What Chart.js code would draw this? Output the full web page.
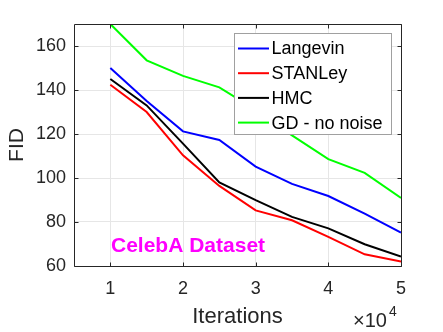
<!DOCTYPE html>
<html>
<head>
<meta charset="utf-8">
<script src="https://cdn.jsdelivr.net/npm/chart.js@4/dist/chart.umd.min.js"></script>
<style>
  html, body { margin: 0; padding: 0; background: #fff; }
</style>
</head>
<body>
<canvas id="fid" width="443" height="332"></canvas>
<script>
// iterations in units of 10^4
const iterations = [1, 1.5, 2, 2.5, 3, 3.5, 4, 4.5, 5]
const langevin = [150, 135, 121.2, 117.3, 105.2, 97.3, 91.8, 83.8, 75.2]
const stanley = [142.4, 130, 110.3, 96.4, 85.3, 80.8, 73.2, 65.3, 62]
const hmc = [145, 133, 115.6, 98, 89.9, 82.3, 77.1, 69.9, 64.3]
const gdNoNoise = [170, 153.5, 146.4, 141.2, 131, 119.4, 108.6, 102.3, 90.9]

const seriesNames = ["Langevin", "STANLey", "HMC", "GD - no noise"]
const seriesValues = [langevin, stanley, hmc, gdNoNoise]
const seriesColors = ["#0000ff", "#ff0000", "#000000", "#00ff00"]

const xTicks = [1, 2, 3, 4, 5]
const yTicks = [60, 80, 100, 120, 140, 160]

const fontFamily = "'Liberation Sans', Arial, Helvetica, sans-serif"
const axisColor = "#262626"

Chart.defaults.font.family = fontFamily

// legend, box, inward ticks and labels drawn MATLAB style
const matlabAxes = {
  id: "matlabAxes",
  afterDatasetsDraw(chart) {
    const { ctx, chartArea: a, scales } = chart
    ctx.save()

    // legend box
    const lx = 234.5, ly = 33.5, lw = 157, lh = 101
    ctx.fillStyle = "#fff"
    ctx.fillRect(lx, ly, lw, lh)
    ctx.strokeStyle = "#a0a0a0"
    ctx.lineWidth = 1
    ctx.strokeRect(lx, ly, lw, lh)

    ctx.font = `18px ${fontFamily}`
    ctx.textBaseline = "middle"
    ctx.textAlign = "left"
    chart.data.datasets.forEach((ds, i) => {
      const rowY = 48.5 + i * 24.7
      ctx.strokeStyle = ds.borderColor
      ctx.lineWidth = 2
      ctx.beginPath()
      ctx.moveTo(238, rowY)
      ctx.lineTo(269, rowY)
      ctx.stroke()
      ctx.fillStyle = "#000"
      ctx.fillText(ds.label, 271.5, rowY + 1)
    })

    // box and inward ticks
    ctx.strokeStyle = axisColor
    ctx.lineWidth = 1
    const L = a.left + 0.5, R = a.right + 0.5, T = a.top + 0.5, B = a.bottom + 0.5
    ctx.beginPath()
    ctx.rect(L, T, R - L, B - T)
    xTicks.forEach(v => {
      const px = Math.round(scales.x.getPixelForValue(v)) + 0.5
      ctx.moveTo(px, B); ctx.lineTo(px, B - 4)
      ctx.moveTo(px, T); ctx.lineTo(px, T + 4)
    })
    yTicks.forEach(v => {
      const py = Math.round(scales.y.getPixelForValue(v)) + 0.5
      ctx.moveTo(L, py); ctx.lineTo(L + 4, py)
      ctx.moveTo(R, py); ctx.lineTo(R - 4, py)
    })
    ctx.stroke()

    // dataset name
    ctx.fillStyle = "#ff00ff"
    ctx.font = `bold 21px ${fontFamily}`
    ctx.textBaseline = "alphabetic"
    ctx.fillText("CelebA Dataset", 111, 252)

    // axis titles
    ctx.fillStyle = axisColor
    ctx.font = `22px ${fontFamily}`
    ctx.textAlign = "center"
    ctx.fillText("Iterations", (a.left + a.right) / 2, 323)

    ctx.save()
    ctx.translate(23, (a.top + a.bottom) / 2)
    ctx.rotate(-Math.PI / 2)
    ctx.font = `21px ${fontFamily}`
    ctx.fillText("FID", 0, 0)
    ctx.restore()

    // exponent
    ctx.textAlign = "left"
    ctx.font = `20px ${fontFamily}`
    ctx.fillText("\u00d710", 353, 327)
    ctx.font = `14px ${fontFamily}`
    ctx.fillText("4", 389, 316)

    ctx.restore()
  }
}

new Chart(document.getElementById("fid"), {
  type: "line",
  data: {
    datasets: seriesNames.map((name, i) => ({
      label: name,
      data: iterations.map((x, j) => ({ x: x, y: seriesValues[i][j] })),
      borderColor: seriesColors[i],
      backgroundColor: seriesColors[i],
      borderWidth: 2,
      pointRadius: 0,
      tension: 0,
      fill: false,
    }))
  },
  options: {
    responsive: false,
    animation: false,
    devicePixelRatio: 1,
    layout: { padding: { top: 24, right: 42, bottom: 0, left: 0 } },
    plugins: {
      legend: { display: false },
      tooltip: { enabled: false },
    },
    scales: {
      x: {
        type: "linear",
        min: 0.5,
        max: 5,
        afterBuildTicks: s => { s.ticks = xTicks.map(v => ({ value: v })) },
        afterFit: s => { s.height = 66 },
        ticks: { color: axisColor, font: { size: 18 }, padding: 12, maxRotation: 0, autoSkip: false },
        grid: { color: "#e6e6e6", drawTicks: false },
        border: { display: false },
      },
      y: {
        min: 60,
        max: 170,
        afterBuildTicks: s => { s.ticks = yTicks.map(v => ({ value: v })) },
        afterFit: s => { s.width = 74 },
        ticks: { color: axisColor, font: { size: 18 }, padding: 8, autoSkip: false },
        grid: { color: "#e6e6e6", drawTicks: false },
        border: { display: false },
      },
    }
  },
  plugins: [matlabAxes]
})
</script>
</body>
</html>
